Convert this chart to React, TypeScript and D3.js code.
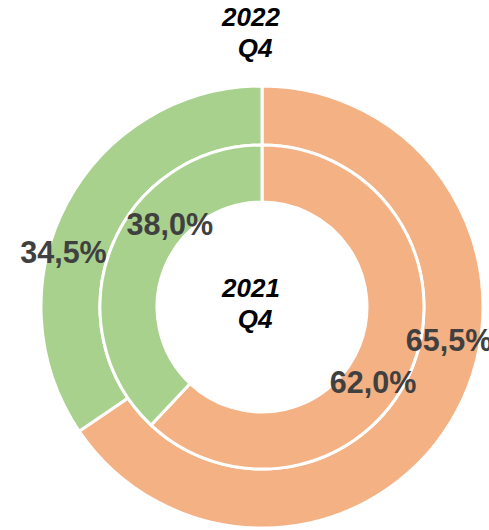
import React from "react";
import * as d3 from "d3";

const categories = ["A", "B"];
const outerValues = [65.5, 34.5]; // 2022 Q4
const innerValues = [62.0, 38.0]; // 2021 Q4
const colors = ["#F4B183", "#A9D18E"];
const outerTitle = ["2022", "Q4"];
const innerTitle = ["2021", "Q4"];

const W = 489;
const H = 530;
const cx = 262;
const cy = 307;

const fmt = (v: number) => v.toFixed(1).replace(".", ",") + "%";

export default function App() {
  const pie = d3.pie<number>().sort(null).startAngle(0).endAngle(2 * Math.PI);
  const outerArcs = pie(outerValues);
  const innerArcs = pie(innerValues);
  const outerArc = d3.arc<d3.PieArcDatum<number>>().innerRadius(162).outerRadius(221);
  const innerArc = d3.arc<d3.PieArcDatum<number>>().innerRadius(105).outerRadius(162);

  // label positions (polar around center): [angleDeg clockwise from top, radius]
  const outerLabelPos = [
    [100, 190],
    [285.5, 206],
  ];
  const innerLabelPos = [
    [124, 134],
    [312, 124],
  ];
  const polar = (a: number, r: number) => {
    const t = (a * Math.PI) / 180;
    return [cx + r * Math.sin(t), cy - r * Math.cos(t)];
  };

  return (
    <svg width={W} height={H} style={{ position: "absolute", left: 0, top: 0 }}>
      <g transform={`translate(${cx},${cy})`}>
        {outerArcs.map((d, i) => (
          <path key={"o" + i} d={outerArc(d) || ""} fill={colors[i]} stroke="#fff" strokeWidth={3} />
        ))}
        {innerArcs.map((d, i) => (
          <path key={"i" + i} d={innerArc(d) || ""} fill={colors[i]} stroke="#fff" strokeWidth={3} />
        ))}
      </g>
      {outerValues.map((v, i) => {
        const [x, y] = polar(outerLabelPos[i][0], outerLabelPos[i][1]);
        return (
          <text key={"ol" + i} x={x} y={y} textAnchor="middle" dominantBaseline="central"
            fontFamily="Liberation Sans, Arial, sans-serif" fontWeight="bold" fontSize={30.5} fill="#404040">
            {fmt(v)}
          </text>
        );
      })}
      {innerValues.map((v, i) => {
        const [x, y] = polar(innerLabelPos[i][0], innerLabelPos[i][1]);
        return (
          <text key={"il" + i} x={x} y={y} textAnchor="middle" dominantBaseline="central"
            fontFamily="Liberation Sans, Arial, sans-serif" fontWeight="bold" fontSize={30.5} fill="#404040">
            {fmt(v)}
          </text>
        );
      })}
      <text fontFamily="Liberation Sans, Arial, sans-serif" fontWeight="bold" fontStyle="italic" fontSize={26} fill="#000" textAnchor="middle">
        <tspan x={251} y={26}>{outerTitle[0]}</tspan>
        <tspan x={255} y={57}>{outerTitle[1]}</tspan>
      </text>
      <text fontFamily="Liberation Sans, Arial, sans-serif" fontWeight="bold" fontStyle="italic" fontSize={26} fill="#000" textAnchor="middle">
        <tspan x={251} y={297}>{innerTitle[0]}</tspan>
        <tspan x={255} y={328}>{innerTitle[1]}</tspan>
      </text>
    </svg>
  );
}
